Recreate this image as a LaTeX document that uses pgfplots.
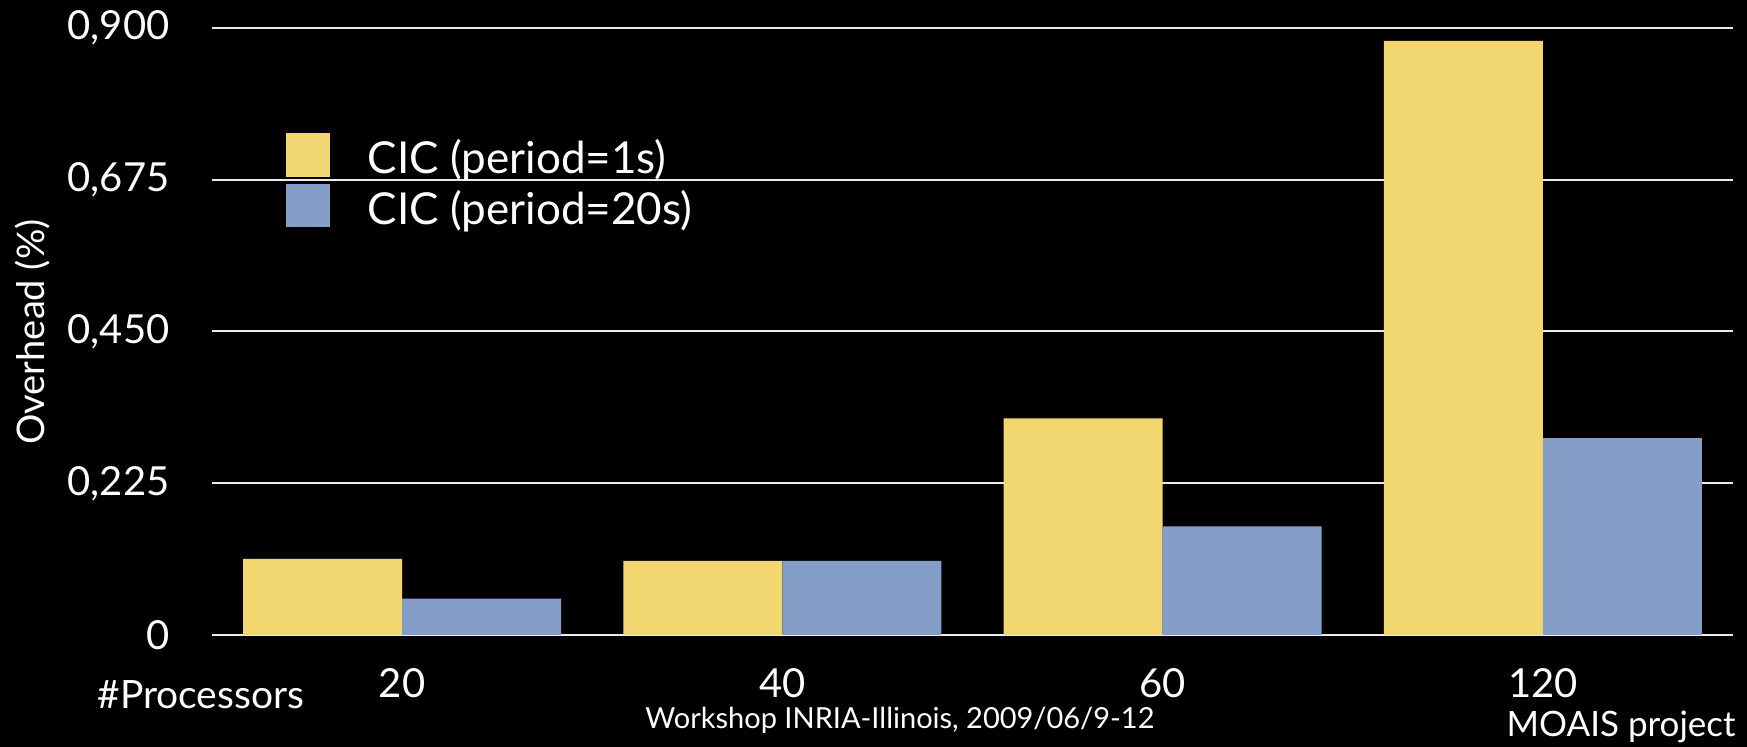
\documentclass[border=0pt]{standalone}
\usepackage{pgfplots}
\pgfplotsset{compat=1.18}
\usepackage{fontspec}
\setmainfont{Lato}
\definecolor{cicy}{RGB}{242,214,112}
\definecolor{cicb}{RGB}{133,158,199}
\pgfplotstableread{
x y
0 0.113
1 0.110
2 0.321
3 0.881
}\seriesA
\pgfplotstableread{
x y
0 0.054
1 0.110
2 0.161
3 0.292
}\seriesB
\begin{document}
\begin{tikzpicture}
\path[use as bounding box, fill=black] (-106pt,-56pt) rectangle (767.5pt,317.5pt);
\begin{axis}[
 at={(0,0)}, anchor=south west,
 width=760.5pt, height=303.5pt, scale only axis,
 xmin=-0.5, xmax=3.5, ymin=0, ymax=0.9,
 ybar=0pt, bar width=0.418,
 axis line style={draw=none},
 major tick length=0pt,
 xtick={0,1,2,3}, xticklabels={20,40,60,120},
 ytick={0,0.225,0.45,0.675,0.9},
 yticklabels={0,{0,225},{0,450},{0,675},{0,900}},
 ymajorgrids, grid style={white!92!black, line width=1pt},
 /pgf/number format/assume math mode=true,
 tick label style={text=white, font=\fontsize{20}{24}\selectfont, inner sep=0pt},
 yticklabel style={anchor=east, xshift=-21pt},
 xticklabel style={anchor=base, yshift=-31.5pt},
 legend style={at={(0.04865,0.827)}, anchor=north west, draw=none, fill=none,
   text=white, font=\fontsize{22}{26}\selectfont, inner sep=0pt,
   nodes={inner sep=0pt, text height=15pt, text depth=5pt},
   row sep=0pt,
   /tikz/every odd column/.append style={column sep=19pt}},
 legend cell align=left,
]
\addplot[fill=cicy, draw=none, legend image code/.code={\fill[cicy] (0pt,-6.5pt) rectangle (21.7pt,15.2pt);}] table[x=x,y=y] {\seriesA};
\addplot[fill=cicb, draw=none, legend image code/.code={\fill[cicb] (0pt,-6.5pt) rectangle (21.7pt,15.2pt);}] table[x=x,y=y] {\seriesB};
\legend{CIC (period=1s), CIC (period=20s)}
\end{axis}
\node[rotate=90, text=white, font=\fontsize{19}{23}\selectfont, inner sep=0pt] at (-89.5pt,151.5pt) {Overhead (\%)};
\node[anchor=base west, text=white, font=\fontsize{19.5}{23}\selectfont, inner sep=0pt] at (-57.5pt,-37pt) {\#Processors};
\node[anchor=base, text=white, font=\fontsize{14.5}{17}\selectfont, inner sep=0pt] at (344pt,-47pt) {Workshop INRIA-Illinois, 2009/06/9-12};
\node[anchor=base east, text=white, font=\fontsize{17.5}{20}\selectfont, inner sep=0pt] at (762pt,-51pt) {MOAIS project};
\end{tikzpicture}
\end{document}
